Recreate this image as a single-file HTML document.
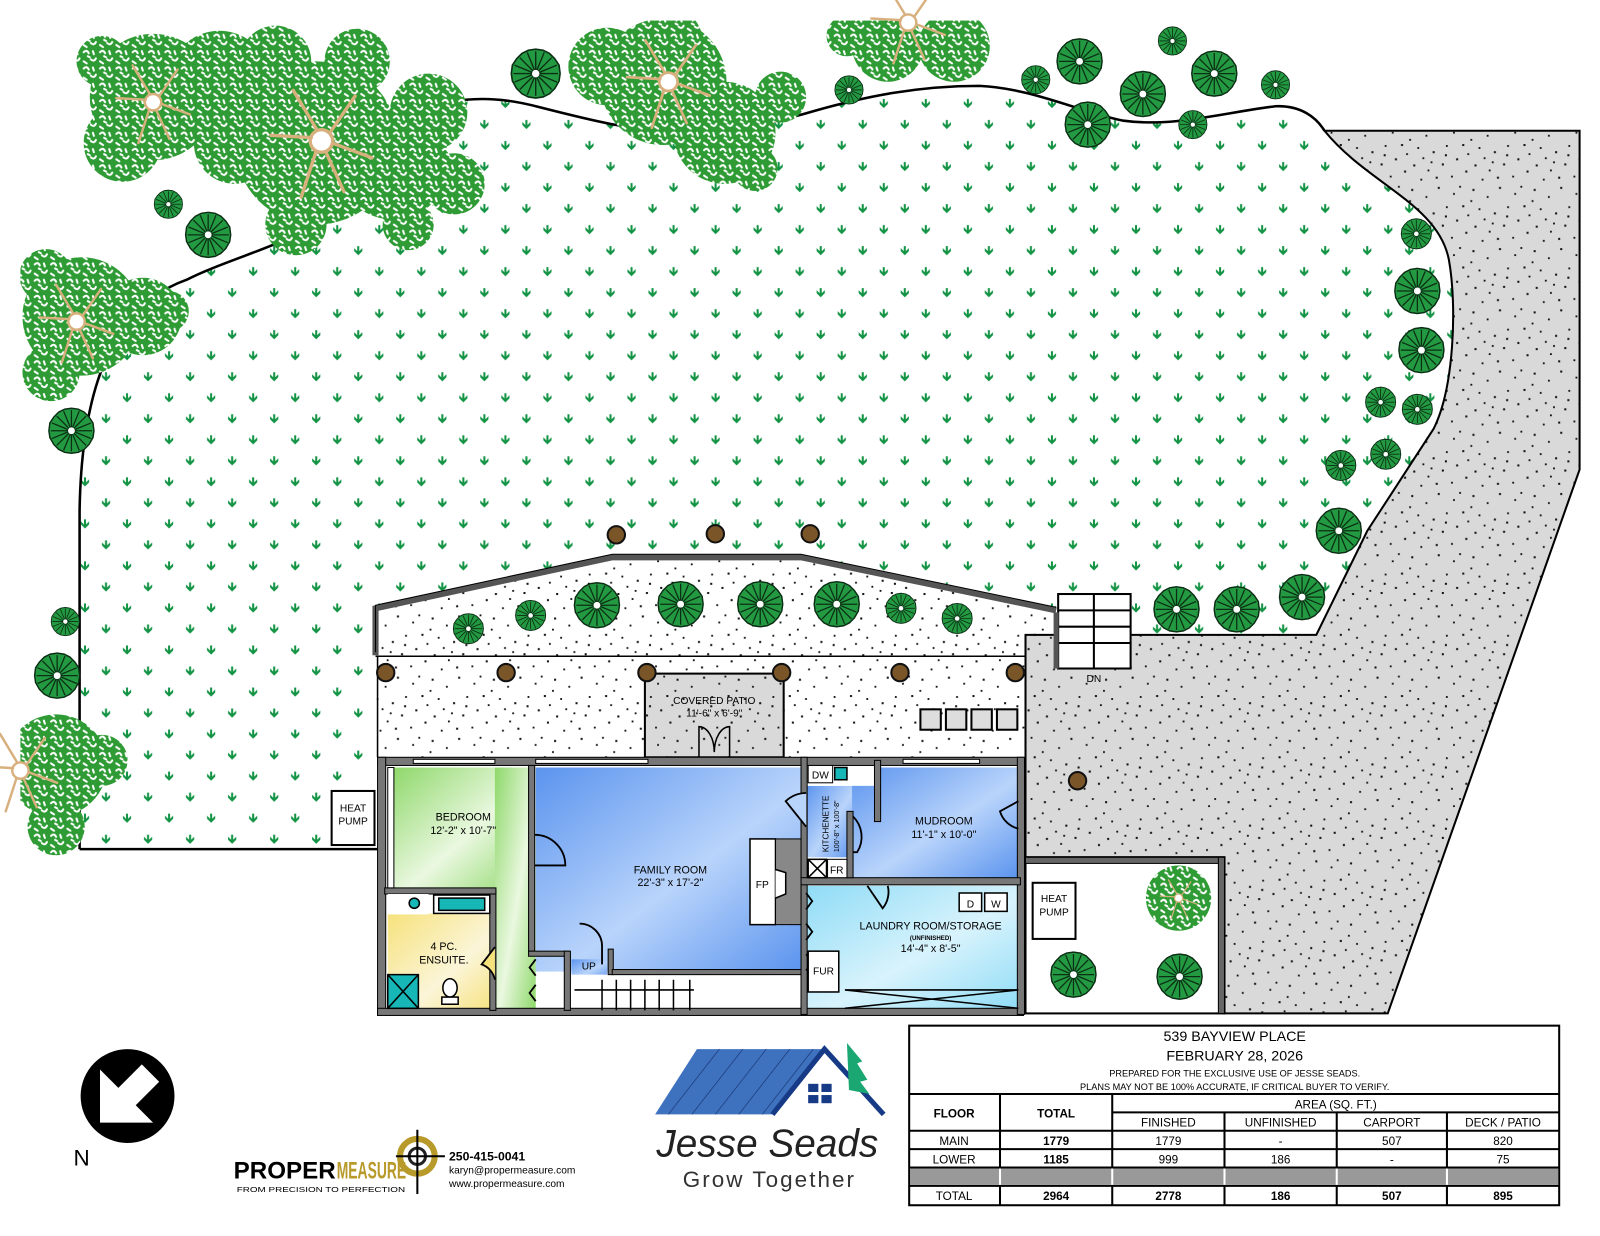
<!DOCTYPE html>
<html><head><meta charset="utf-8"><style>
html,body{margin:0;padding:0;background:#fff}
svg{display:block}
text{font-family:"Liberation Sans",Arial,sans-serif}
</style></head><body>
<svg width="1600" height="1236" viewBox="0 0 1568 1211" xmlns="http://www.w3.org/2000/svg">
<defs>
<g id="mk"><path d="M-4,-3 L0,1 L4,-3 L4,0 L0,4 L-4,0Z M-1,-5 h2 v6 h-2Z" fill="#139344"/></g>
<pattern id="lawn" x="124.5" y="555" width="41.2" height="41.2" patternUnits="userSpaceOnUse">
<use href="#mk"/><use href="#mk" x="41.2"/><use href="#mk" y="41.2"/><use href="#mk" x="41.2" y="41.2"/><use href="#mk" x="20.6" y="20.6"/>
</pattern>
<pattern id="speck" width="60" height="60" patternUnits="userSpaceOnUse">
<g fill="#111">
<rect x="3" y="5" width="2" height="2"/><rect x="17" y="12" width="1.8" height="1.8"/><rect x="29" y="3" width="2" height="2"/><rect x="44" y="9" width="1.8" height="1.8"/><rect x="53" y="21" width="2" height="2"/><rect x="9" y="24" width="1.8" height="1.8"/><rect x="24" y="28" width="2" height="2"/><rect x="37" y="22" width="1.8" height="1.8"/><rect x="47" y="35" width="2" height="2"/><rect x="5" y="41" width="2" height="2"/><rect x="19" y="46" width="1.8" height="1.8"/><rect x="33" y="40" width="2" height="2"/><rect x="42" y="52" width="1.8" height="1.8"/><rect x="56" y="47" width="2" height="2"/><rect x="12" y="55" width="1.8" height="1.8"/><rect x="27" y="53" width="2" height="2"/><rect x="14" y="34" width="1.8" height="1.8"/><rect x="50" y="2" width="1.8" height="1.8"/><rect x="36" y="31" width="2" height="2"/><rect x="1" y="16" width="1.8" height="1.8"/><rect x="58" y="30" width="1.8" height="1.8"/><rect x="22" y="38" width="1.8" height="1.8"/>
</g></pattern>
<pattern id="leaf" width="16" height="16" patternUnits="userSpaceOnUse">
<rect width="16" height="16" fill="#2e9b34"/>
<path d="M2,3 q3,-3 5,1 M9,10 q3,3 5,-1 M2,12 l3,2 M11,2 l1,3 M6,7 l2,1" stroke="#fff" stroke-width="2" fill="none" stroke-linecap="round"/>
</pattern>
<linearGradient id="gBed" x1="0" y1="0" x2="1" y2="1"><stop offset="0" stop-color="#8ed86a"/><stop offset="0.55" stop-color="#eaf8e0"/><stop offset="1" stop-color="#8ed86a"/></linearGradient>
<linearGradient id="gFam" x1="0" y1="0" x2="1" y2="1"><stop offset="0" stop-color="#5b94ee"/><stop offset="0.55" stop-color="#b9d4fb"/><stop offset="1" stop-color="#5b94ee"/></linearGradient>
<linearGradient id="gEns" x1="0" y1="0" x2="1" y2="1"><stop offset="0" stop-color="#f6e27c"/><stop offset="0.6" stop-color="#fbf5d8"/><stop offset="1" stop-color="#f6e27c"/></linearGradient>
<linearGradient id="gLau" x1="0" y1="0" x2="1" y2="1"><stop offset="0" stop-color="#8fdcf6"/><stop offset="0.55" stop-color="#d8f3fc"/><stop offset="1" stop-color="#8fdcf6"/></linearGradient>
<symbol id="bush" viewBox="-25 -25 50 50">
<path d="M0,-23 L7,-22 L13,-19 L18,-14 L22,-8 L23,0 L22,7 L18,14 L13,19 L7,22 L0,23 L-7,22 L-13,19 L-18,14 L-22,7 L-23,0 L-22,-8 L-18,-14 L-13,-19 L-7,-22Z" fill="#239a42" stroke="#0b2e14" stroke-width="1.5"/>
<g stroke="#0b2e14" stroke-width="1.3"><path d="M0,-3V-21M0,3V21M-3,0H-21M3,0H21M-2,-2L-15,-15M2,2L15,15M2,-2L15,-15M-2,2L-15,15M-1,-3L-8,-20M1,3L8,20M3,-1L20,-8M-3,1L-20,8M1,-3L8,-20M-1,3L-8,20M-3,-1L-20,-8M3,1L20,8"/></g>
<circle r="3.5" fill="#fff"/>
</symbol>
<symbol id="post" viewBox="-10 -10 20 20"><circle r="8.5" fill="#7a5528" stroke="#111" stroke-width="2"/></symbol>
<g id="trunk" stroke="#d8b07e" stroke-width="3" fill="none" stroke-linecap="round">
<circle r="10" fill="#fff"/><path d="M8,-8 L30,-40 M10,2 L45,15 M4,10 L20,45 M-5,10 L-18,50 M-9,-3 L-45,-5 M-4,-10 L-25,-45"/>
</g>
</defs>

<!-- lawn -->
<path d="M78,832 L78,500 C80,380 110,300 183,274 C220,255 280,240 314,216 C345,195 355,175 363,160 C375,135 400,110 440,100 C470,94 500,97 529,105 C580,118 620,128 660,128 C720,128 760,120 800,108 C850,94 900,84 960,84 C1010,86 1060,110 1100,118 C1150,125 1200,110 1250,104 C1275,103 1290,115 1298,128 C1340,180 1410,200 1420,255 C1428,300 1425,380 1405,420 L1340,520 L1290,622 L1035,622 L1035,597 L785,545 L600,545 L365,595 L365,832 Z" fill="url(#lawn)"/>
<path d="M78,832 L78,500 C80,380 110,300 183,274 C220,255 280,240 314,216 C345,195 355,175 363,160 C375,135 400,110 440,100 C470,94 500,97 529,105 C580,118 620,128 660,128 C720,128 760,120 800,108 C850,94 900,84 960,84 C1010,86 1060,110 1100,118 C1150,125 1200,110 1250,104 C1275,103 1290,115 1298,128" fill="none" stroke="#000" stroke-width="2.5"/>
<line x1="78" y1="832" x2="370" y2="832" stroke="#000" stroke-width="2.5"/>

<!-- gravel -->
<path d="M1298,128 L1548,128 L1548,460 L1360,993 L1200,993 L1200,840 L1005,840 L1005,622 L1290,622 L1340,520 L1405,420 C1425,380 1428,300 1420,255 C1410,200 1340,180 1298,128Z" fill="#d9d9d9"/>
<path d="M1298,128 L1548,128 L1548,460 L1360,993 L1200,993 L1200,840 L1005,840 L1005,622 L1290,622 L1340,520 L1405,420 C1425,380 1428,300 1420,255 C1410,200 1340,180 1298,128Z" fill="url(#speck)" stroke="#000" stroke-width="2"/>

<!-- parking white area -->
<rect x="1005" y="840" width="195" height="153" fill="#fff" stroke="#000" stroke-width="2"/>
<rect x="1005" y="840" width="195" height="6" fill="#666" stroke="#000" stroke-width="1"/>
<rect x="1194" y="840" width="6" height="153" fill="#666" stroke="#000" stroke-width="1"/>
<rect x="1012" y="865" width="42" height="55" fill="#fff" stroke="#000" stroke-width="2"/>
<text x="1033" y="884" font-size="10" text-anchor="middle">HEAT</text>
<text x="1033" y="897" font-size="10" text-anchor="middle">PUMP</text>

<!-- upper patio -->
<path d="M368,596 L600,546 L785,546 L1035,598 L1035,622 L1005,622 L1005,742 L370,742 Z" fill="url(#speck)"/>
<path d="M368,642 L368,596 L600,546 L785,546 L1035,598" fill="none" stroke="#555" stroke-width="6"/>
<path d="M368,642 L368,596 L600,546 L785,546 L1035,598" fill="none" stroke="#000" stroke-width="1" transform="translate(0,-3)"/>
<line x1="368" y1="643" x2="1005" y2="643" stroke="#000" stroke-width="1.5"/>
<line x1="370" y1="643" x2="370" y2="742" stroke="#000" stroke-width="1.5"/>
<rect x="632" y="660" width="136" height="82" fill="#d9d9d9" stroke="#000" stroke-width="2"/>
<rect x="632" y="660" width="136" height="82" fill="url(#speck)"/>
<text x="700" y="690" font-size="10" text-anchor="middle">COVERED PATIO</text>
<text x="700" y="702" font-size="10" text-anchor="middle">11'-6" x 6'-9"</text>
<path d="M685,742 V712 A15,25 0 0 1 700,737 A15,25 0 0 1 715,712 V742" fill="none" stroke="#000" stroke-width="1.5"/>
<g fill="#ddd" stroke="#000" stroke-width="2"><rect x="902" y="695" width="20" height="20"/><rect x="927" y="695" width="20" height="20"/><rect x="952" y="695" width="20" height="20"/><rect x="977" y="695" width="20" height="20"/></g>
<!-- deck stairs -->
<rect x="1037" y="582" width="71" height="73" fill="#fff" stroke="#000" stroke-width="2"/>
<path d="M1037,598H1108M1037,614H1108M1037,630H1108M1072,582V655" stroke="#000" stroke-width="2"/>
<path d="M1035,600 V655" stroke="#555" stroke-width="5"/>
<text x="1072" y="668" font-size="10" text-anchor="middle">DN</text>

<!-- heat pump left -->
<rect x="325" y="775" width="42" height="53" fill="#fff" stroke="#000" stroke-width="2"/>
<text x="346" y="795" font-size="10" text-anchor="middle">HEAT</text>
<text x="346" y="808" font-size="10" text-anchor="middle">PUMP</text>

<!-- HOUSE -->
<rect x="370" y="742" width="633" height="252" fill="#fff"/>
<rect x="385" y="752" width="135" height="120" fill="url(#gBed)"/>
<rect x="485" y="752" width="40" height="238" fill="url(#gBed)"/>
<rect x="380" y="895" width="105" height="95" fill="url(#gEns)"/>
<rect x="380" y="875" width="105" height="20" fill="#fff"/>
<rect x="525" y="752" width="260" height="200" fill="url(#gFam)"/>
<rect x="560" y="940" width="35" height="20" fill="url(#gFam)"/>
<rect x="560" y="955" width="225" height="35" fill="#fff"/>
<rect x="790" y="770" width="45" height="70" fill="url(#gFam)"/>
<rect x="835" y="752" width="163" height="108" fill="url(#gFam)"/>
<rect x="790" y="868" width="208" height="122" fill="url(#gLau)"/>
<rect x="790" y="745" width="70" height="25" fill="#fff"/>
<g fill="#777" stroke="#000" stroke-width="1">
<rect x="370" y="742" width="633" height="8"/>
<rect x="370" y="742" width="8" height="252"/>
<rect x="370" y="988" width="633" height="7"/>
<rect x="997" y="742" width="7" height="252"/>
<rect x="518" y="750" width="6" height="182"/>
<rect x="480" y="872" width="6" height="118"/>
<rect x="377" y="870" width="109" height="6"/>
<rect x="518" y="932" width="40" height="5"/>
<rect x="553" y="932" width="6" height="58"/>
<rect x="596" y="930" width="5" height="25"/>
<rect x="600" y="950" width="190" height="5"/>
<rect x="785" y="742" width="6" height="252"/>
<rect x="785" y="860" width="215" height="7"/>
<rect x="830" y="795" width="6" height="65"/>
<rect x="857" y="745" width="6" height="60"/>
</g>
<g fill="#fff" stroke="#000" stroke-width="1"><rect x="405" y="744" width="80" height="4"/><rect x="525" y="744" width="110" height="4"/><rect x="885" y="744" width="75" height="4"/></g>
<rect x="380" y="752" width="6" height="118" fill="#fff" stroke="#000" stroke-width="1"/>
<path d="M524,818 A30,30 0 0 1 554,848 L524,848" fill="none" stroke="#000" stroke-width="1.8"/>
<path d="M568,905 A22,22 0 0 1 590,927 V945" fill="none" stroke="#000" stroke-width="1.8"/>
<path d="M790,810 L770,785 A30,30 0 0 1 790,777" fill="#b9d4fb" stroke="#000" stroke-width="1.8"/>
<path d="M836,800 A28,28 0 0 1 840,835 L836,835" fill="none" stroke="#000" stroke-width="1.8"/>
<path d="M998,785 L980,795 A25,25 0 0 0 998,812" fill="none" stroke="#000" stroke-width="1.8"/>
<path d="M850,868 L865,890 A25,25 0 0 0 870,868" fill="none" stroke="#000" stroke-width="1.8"/>
<path d="M485,928 L472,945 A20,20 0 0 1 485,960" fill="#f6e27c" stroke="#000" stroke-width="1.8"/>
<path d="M525,940 l-6,8 l6,8 M525,965 l-6,8 l6,8" fill="none" stroke="#000" stroke-width="1.8"/>
<path d="M790,875 l6,8 l-6,8 M790,905 l6,8 l-6,8 M790,935 l6,8 l-6,8" fill="none" stroke="#000" stroke-width="1.8"/>
<g stroke="#000" stroke-width="1.5"><path d="M590,960V990M604,960V990M618,960V990M632,960V990M646,960V990M660,960V990M676,960V990M563,970H680"/></g>
<text x="577" y="950" font-size="10" text-anchor="middle">UP</text>
<rect x="380" y="876" width="40" height="20" fill="#fff"/>
<circle cx="406" cy="885" r="5" fill="#17b7b7" stroke="#000" stroke-width="1.5"/>
<rect x="425" y="877" width="55" height="18" fill="#fff" stroke="#000" stroke-width="1.5"/>
<rect x="430" y="880" width="45" height="12" fill="#17b7b7" stroke="#000" stroke-width="1.5"/>
<rect x="380" y="955" width="30" height="33" fill="#17b7b7" stroke="#000" stroke-width="1.5"/>
<path d="M380,955 L410,988 M410,955 L380,988" stroke="#000" stroke-width="1.5"/>
<ellipse cx="441" cy="968" rx="7" ry="9" fill="#fff" stroke="#000" stroke-width="1.5"/>
<rect x="433" y="977" width="16" height="7" fill="#fff" stroke="#000" stroke-width="1.5"/>
<rect x="735" y="822" width="25" height="84" fill="#fff" stroke="#000" stroke-width="1.5"/>
<rect x="760" y="822" width="25" height="84" fill="#888" stroke="#000" stroke-width="1"/>
<path d="M760,852 L770,855 V876 L760,880" fill="#fff" stroke="#000" stroke-width="1.5"/>
<text x="747" y="870" font-size="10" text-anchor="middle">FP</text>
<rect x="792" y="750" width="24" height="17" fill="#fff" stroke="#000" stroke-width="1"/>
<text x="804" y="763" font-size="10" text-anchor="middle">DW</text>
<rect x="818" y="752" width="12" height="12" fill="#17b7b7" stroke="#000" stroke-width="1.5"/>
<rect x="792" y="842" width="18" height="18" fill="#fff" stroke="#000" stroke-width="1.5"/>
<path d="M792,842 L810,860 M810,842 L792,860" stroke="#000" stroke-width="1.5"/>
<rect x="811" y="842" width="19" height="18" fill="#fff" stroke="#000" stroke-width="1"/>
<text x="820" y="856" font-size="10" text-anchor="middle">FR</text>
<text transform="translate(812,835) rotate(-90)" font-size="8">KITCHENETTE</text>
<text transform="translate(822,835) rotate(-90)" font-size="7">100'-8" x 100'-8"</text>
<rect x="940" y="875" width="22" height="18" fill="#fff" stroke="#000" stroke-width="1.5"/>
<rect x="965" y="875" width="22" height="18" fill="#fff" stroke="#000" stroke-width="1.5"/>
<text x="951" y="889" font-size="10" text-anchor="middle">D</text>
<text x="976" y="889" font-size="10" text-anchor="middle">W</text>
<rect x="792" y="932" width="30" height="40" fill="#fff" stroke="#000" stroke-width="1.5"/>
<text x="807" y="955" font-size="10" text-anchor="middle">FUR</text>
<path d="M828,970 L998,970 M828,970 L998,988 M998,970 L828,988" stroke="#000" stroke-width="1.5"/>
<text x="454" y="804" font-size="10.5" text-anchor="middle">BEDROOM</text>
<text x="454" y="817" font-size="10.5" text-anchor="middle">12'-2" x 10'-7"</text>
<text x="657" y="856" font-size="10.5" text-anchor="middle">FAMILY ROOM</text>
<text x="657" y="868" font-size="10.5" text-anchor="middle">22'-3" x 17'-2"</text>
<text x="925" y="808" font-size="10.5" text-anchor="middle">MUDROOM</text>
<text x="925" y="821" font-size="10.5" text-anchor="middle">11'-1" x 10'-0"</text>
<text x="912" y="911" font-size="10.5" text-anchor="middle">LAUNDRY ROOM/STORAGE</text>
<text x="912" y="921" font-size="6" text-anchor="middle" font-weight="bold">(UNFINISHED)</text>
<text x="912" y="933" font-size="10.5" text-anchor="middle">14'-4" x 8'-5"</text>
<text x="435" y="931" font-size="10.5" text-anchor="middle">4 PC.</text>
<text x="435" y="944" font-size="10.5" text-anchor="middle">ENSUITE.</text>

<!-- tree canopies -->
<g fill="url(#leaf)">
<circle cx="150" cy="95" r="62"/><circle cx="100" cy="60" r="25"/><circle cx="215" cy="80" r="50"/><circle cx="230" cy="140" r="40"/><circle cx="310" cy="140" r="80"/><circle cx="385" cy="160" r="55"/><circle cx="420" cy="110" r="38"/><circle cx="445" cy="180" r="30"/><circle cx="270" cy="60" r="35"/><circle cx="120" cy="140" r="38"/><circle cx="350" cy="60" r="32"/><circle cx="290" cy="220" r="30"/><circle cx="400" cy="220" r="25"/>
<circle cx="650" cy="80" r="62"/><circle cx="595" cy="65" r="38"/><circle cx="710" cy="130" r="50"/><circle cx="765" cy="95" r="25"/><circle cx="660" cy="38" r="28"/><circle cx="740" cy="165" r="22"/>
<circle cx="870" cy="45" r="35"/><circle cx="935" cy="45" r="35"/><circle cx="830" cy="35" r="20"/>
<circle cx="80" cy="310" r="58"/><circle cx="140" cy="310" r="38"/><circle cx="45" cy="270" r="26"/><circle cx="50" cy="365" r="28"/><circle cx="165" cy="305" r="20"/>
<circle cx="55" cy="750" r="50"/><circle cx="100" cy="745" r="25"/><circle cx="55" cy="810" r="28"/>
<circle cx="1155" cy="880" r="32"/>
</g>
<rect x="0" y="0" width="20" height="1211" fill="#fff"/>
<rect x="0" y="0" width="1568" height="20" fill="#fff"/>
<use href="#trunk" transform="translate(150,100) scale(0.8)"/>
<use href="#trunk" transform="translate(315,138) scale(1.1)"/>
<use href="#trunk" transform="translate(655,80) scale(0.9)"/>
<use href="#trunk" transform="translate(890,22) scale(0.8)"/>
<use href="#trunk" transform="translate(75,315) scale(0.8)"/>
<use href="#trunk" transform="translate(20,755) scale(0.8)"/>
<use href="#trunk" transform="translate(1155,880) scale(0.4)"/>

<g>
<use href="#bush" x="499" y="46" width="52" height="52"/>
<use href="#bush" x="817" y="73" width="30" height="30"/>
<use href="#bush" x="1034" y="36" width="48" height="48"/>
<use href="#bush" x="1134" y="25" width="30" height="30"/>
<use href="#bush" x="1166" y="48" width="48" height="48"/>
<use href="#bush" x="1235" y="68" width="30" height="30"/>
<use href="#bush" x="1000" y="63" width="30" height="30"/>
<use href="#bush" x="1096" y="68" width="48" height="48"/>
<use href="#bush" x="1042" y="98" width="48" height="48"/>
<use href="#bush" x="1154" y="107" width="30" height="30"/>
<use href="#bush" x="150" y="185" width="30" height="30"/>
<use href="#bush" x="180" y="206" width="48" height="48"/>
<use href="#bush" x="46" y="398" width="48" height="48"/>
<use href="#bush" x="49" y="594" width="30" height="30"/>
<use href="#bush" x="32" y="638" width="48" height="48"/>
<use href="#bush" x="1372" y="213" width="32" height="32"/>
<use href="#bush" x="1365" y="261" width="48" height="48"/>
<use href="#bush" x="1369" y="319" width="48" height="48"/>
<use href="#bush" x="1337" y="378" width="32" height="32"/>
<use href="#bush" x="1373" y="385" width="32" height="32"/>
<use href="#bush" x="1342" y="429" width="32" height="32"/>
<use href="#bush" x="1298" y="440" width="32" height="32"/>
<use href="#bush" x="1288" y="496" width="48" height="48"/>
<use href="#bush" x="1252" y="561" width="48" height="48"/>
<use href="#bush" x="1129" y="573" width="48" height="48"/>
<use href="#bush" x="1188" y="573" width="48" height="48"/>
<use href="#bush" x="443" y="600" width="32" height="32"/>
<use href="#bush" x="504" y="587" width="32" height="32"/>
<use href="#bush" x="561" y="569" width="48" height="48"/>
<use href="#bush" x="643" y="568" width="48" height="48"/>
<use href="#bush" x="721" y="568" width="48" height="48"/>
<use href="#bush" x="796" y="568" width="48" height="48"/>
<use href="#bush" x="867" y="580" width="32" height="32"/>
<use href="#bush" x="922" y="590" width="32" height="32"/>
<use href="#bush" x="1028" y="931" width="48" height="48"/>
<use href="#bush" x="1132" y="933" width="48" height="48"/>
</g>
<g>
<use href="#post" x="594" y="514" width="20" height="20"/><use href="#post" x="691" y="513" width="20" height="20"/><use href="#post" x="784" y="513" width="20" height="20"/>
<use href="#post" x="368" y="649" width="20" height="20"/><use href="#post" x="486" y="649" width="20" height="20"/><use href="#post" x="624" y="649" width="20" height="20"/><use href="#post" x="756" y="649" width="20" height="20"/><use href="#post" x="872" y="649" width="20" height="20"/><use href="#post" x="985" y="649" width="20" height="20"/><use href="#post" x="1046" y="755" width="20" height="20"/>
</g>

<circle cx="125" cy="1074" r="46" fill="#000"/>
<path d="M98,1048 L98,1100 L150,1100 L133,1083 L156,1060 L139,1043 L116,1066 Z" fill="#fff"/>
<text x="80" y="1142" font-size="22" text-anchor="middle">N</text>

<text x="229" y="1155" font-size="24" font-weight="bold" font-family="Liberation Sans Narrow,Liberation Sans,sans-serif" textLength="100" lengthAdjust="spacingAndGlyphs">PROPER</text>
<text x="330" y="1155" font-size="24" font-weight="bold" fill="#b79a2a" font-family="Liberation Sans Narrow,Liberation Sans,sans-serif" textLength="68" lengthAdjust="spacingAndGlyphs">MEASURE</text>
<text x="232" y="1168" font-size="7" textLength="165" lengthAdjust="spacingAndGlyphs">FROM PRECISION TO PERFECTION</text>
<circle cx="409" cy="1133" r="17" fill="none" stroke="#b79a2a" stroke-width="6"/>
<circle cx="409" cy="1133" r="8" fill="none" stroke="#222" stroke-width="3"/>
<path d="M409,1107 V1170 M388,1133 H436" stroke="#000" stroke-width="2"/>
<text x="440" y="1137" font-size="12" font-weight="bold">250-415-0041</text>
<text x="440" y="1150" font-size="10">karyn@propermeasure.com</text>
<text x="440" y="1163" font-size="10">www.propermeasure.com</text>

<path d="M683,1028 L808,1028 L757,1092 L642,1092 Z" fill="#3f72be"/>
<g stroke="#1e3f80" stroke-width="0.8"><path d="M705,1028 L655,1092 M728,1028 L678,1092 M751,1028 L701,1092 M774,1028 L724,1092 M797,1028 L747,1092"/></g>
<path d="M757,1092 L808,1028 L866,1092" fill="none" stroke="#163a86" stroke-width="5"/>
<path d="M830,1022 L845,1040 L840,1042 L850,1058 L843,1060 L852,1072 L832,1068Z" fill="#1aa772"/>
<g fill="#163a86"><rect x="792" y="1062" width="10" height="8"/><rect x="805" y="1062" width="10" height="8"/><rect x="792" y="1073" width="10" height="8"/><rect x="805" y="1073" width="10" height="8"/></g>
<text x="752" y="1133" font-size="38" font-style="italic" font-family="Liberation Serif,serif" text-anchor="middle" fill="#222">Jesse Seads</text>
<text x="754" y="1163" font-size="22" font-family="Liberation Serif,serif" text-anchor="middle" fill="#333" letter-spacing="2">Grow Together</text>

<g stroke="#000" fill="none">
<rect x="891" y="1005" width="637" height="176" stroke-width="2"/>
<path d="M891,1072 H1528 M1090,1090 H1528 M891,1108 H1528 M891,1126 H1528 M891,1144 H1528 M891,1162 H1528" stroke-width="2"/>
<path d="M980,1072 V1181 M1090,1072 V1181 M1200,1090 V1181 M1310,1090 V1181 M1418,1090 V1181" stroke-width="2"/>
</g>
<rect x="892" y="1145" width="635" height="16" fill="#999"/>
<path d="M980,1145 V1161 M1090,1145 V1161 M1200,1145 V1161 M1310,1145 V1161 M1418,1145 V1161" stroke="#fff" stroke-width="2"/>
<g font-size="14" text-anchor="middle">
<text x="1210" y="1020">539 BAYVIEW PLACE</text>
<text x="1210" y="1039">FEBRUARY 28, 2026</text>
</g>
<g font-size="9" text-anchor="middle">
<text x="1210" y="1055">PREPARED FOR THE EXCLUSIVE USE OF JESSE SEADS.</text>
<text x="1210" y="1068">PLANS MAY NOT BE 100% ACCURATE, IF CRITICAL BUYER TO VERIFY.</text>
</g>
<g font-size="11.5" text-anchor="middle">
<text x="935" y="1095" font-weight="bold">FLOOR</text>
<text x="1035" y="1095" font-weight="bold">TOTAL</text>
<text x="1309" y="1086">AREA (SQ. FT.)</text>
<text x="1145" y="1104">FINISHED</text><text x="1255" y="1104">UNFINISHED</text><text x="1364" y="1104">CARPORT</text><text x="1473" y="1104">DECK / PATIO</text>
<text x="935" y="1122">MAIN</text><text x="1035" y="1122" font-weight="bold">1779</text><text x="1145" y="1122">1779</text><text x="1255" y="1122">-</text><text x="1364" y="1122">507</text><text x="1473" y="1122">820</text>
<text x="935" y="1140">LOWER</text><text x="1035" y="1140" font-weight="bold">1185</text><text x="1145" y="1140">999</text><text x="1255" y="1140">186</text><text x="1364" y="1140">-</text><text x="1473" y="1140">75</text>
<text x="935" y="1176">TOTAL</text><text x="1035" y="1176" font-weight="bold">2964</text><text x="1145" y="1176" font-weight="bold">2778</text><text x="1255" y="1176" font-weight="bold">186</text><text x="1364" y="1176" font-weight="bold">507</text><text x="1473" y="1176" font-weight="bold">895</text>
</g>
</svg>
</body></html>
